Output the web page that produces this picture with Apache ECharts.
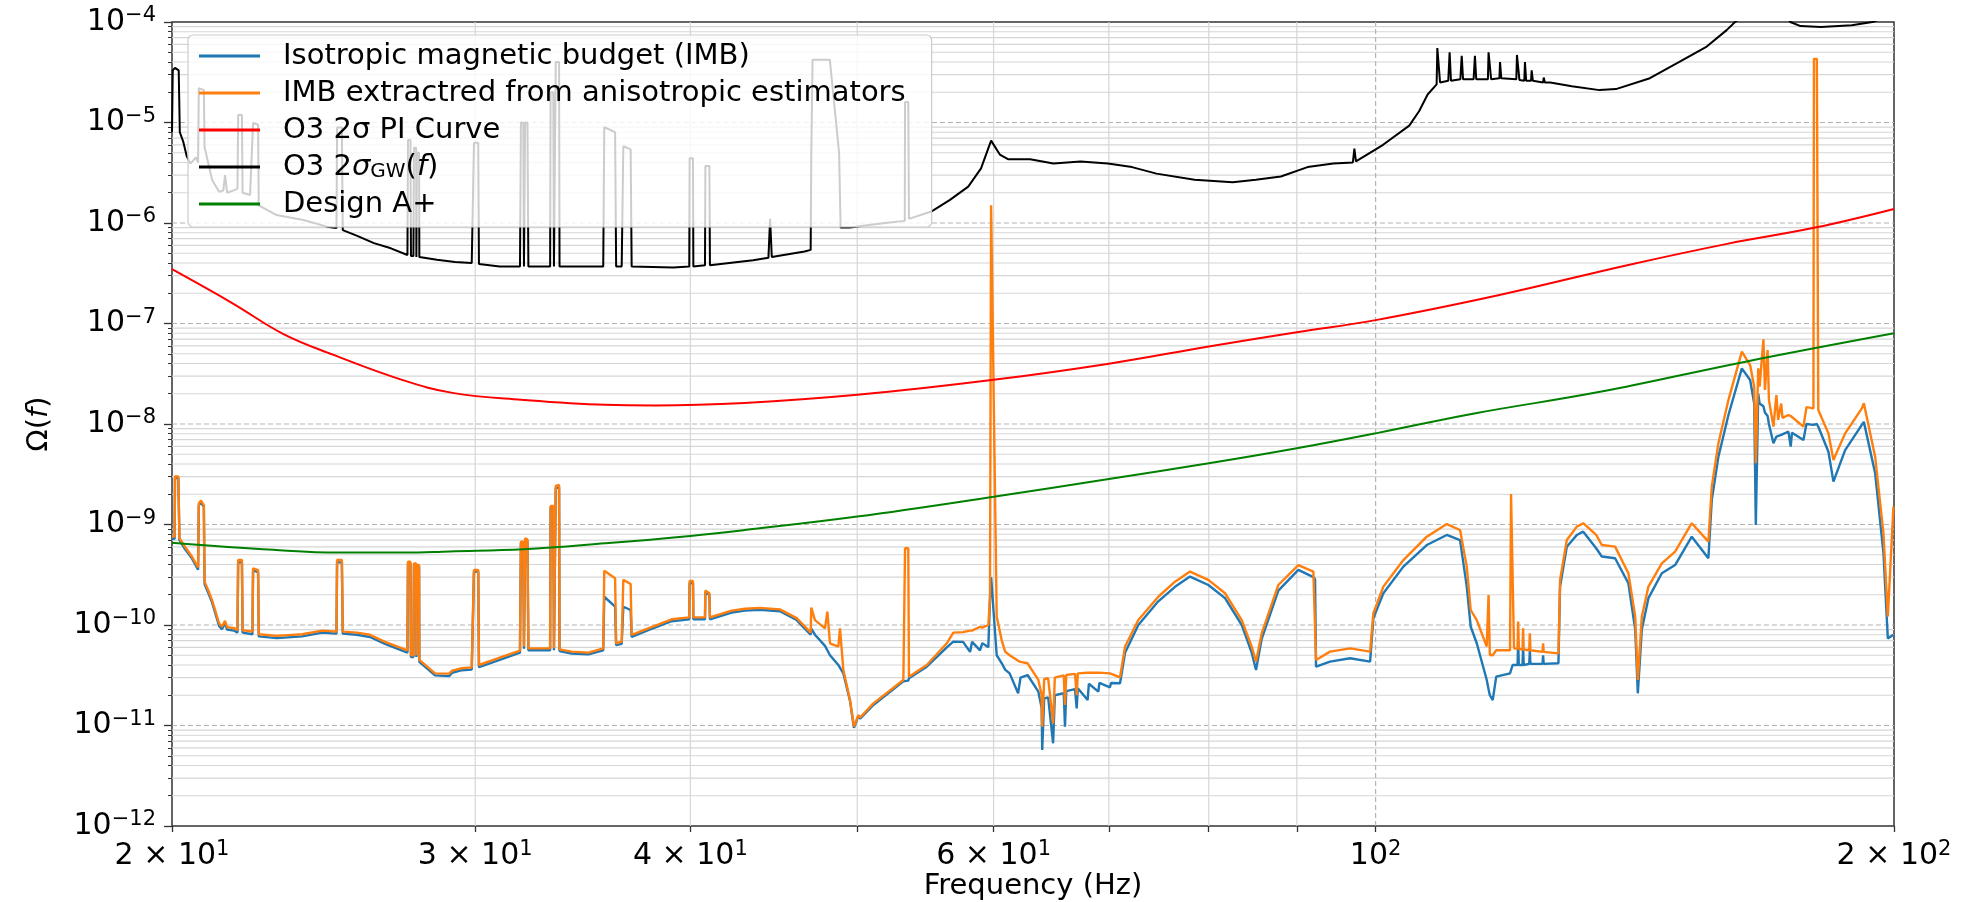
<!DOCTYPE html>
<html><head><meta charset="utf-8">
<script src="https://cdn.jsdelivr.net/npm/echarts@6/dist/echarts.min.js"></script>
<style>html,body{margin:0;padding:0;background:#fff}#c{width:1972px;height:902px}</style>
</head><body><div id="c"></div>
<script>
// ---------- data ----------
const seriesNames = ['Isotropic magnetic budget (IMB)', 'IMB extractred from anisotropic estimators', 'O3 2σ PI Curve', 'O3 2σGW(f)', 'Design A+'];

const imbFreq = [
 20.00,20.07,20.08,20.17,20.20,20.35,20.54,20.71,20.73,20.79,
 20.87,20.89,20.99,21.10,21.30,21.38,21.47,21.53,21.73,21.83,
 21.85,21.96,21.98,22.27,22.29,22.44,22.46,23.01,23.80,24.45,
 24.92,24.94,25.10,25.13,25.61,26.06,26.59,27.40,27.42,27.51,
 27.53,27.62,27.64,27.72,27.73,27.75,27.83,27.84,28.43,28.97,
 29.09,29.47,29.86,29.95,30.12,30.15,30.94,31.85,31.89,31.99,
 32.02,32.07,32.17,32.21,33.16,33.18,33.30,33.33,33.41,33.56,
 33.58,34.13,34.90,35.60,35.65,36.17,36.22,36.49,36.57,36.93,
 36.98,37.81,39.01,39.94,39.96,40.14,40.16,40.79,40.81,41.03,
 41.06,42.27,43.03,43.90,45.09,46.11,46.98,47.02,47.25,47.89,
 48.04,48.21,48.75,48.86,49.08,49.52,49.78,50.07,50.19,51.09,
 53.18,53.30,53.53,53.58,54.87,56.36,56.85,57.60,58.14,58.30,
 58.92,59.10,59.58,59.71,59.80,59.95,60.25,60.66,60.93,61.30,
 62.00,62.20,62.79,63.70,63.98,64.03,64.20,64.54,64.97,65.12,
 65.90,66.01,66.12,66.90,67.05,67.15,68.04,68.15,69.02,69.12,
 70.10,70.20,71.05,71.53,72.81,74.78,76.47,78.02,79.96,81.76,
 83.61,84.73,85.22,85.87,87.80,90.18,92.01,92.22,92.34,94.09,
 96.64,99.26,99.70,101.04,103.78,107.08,109.98,111.95,112.96,113.56,
 114.48,116.02,116.30,116.50,116.95,117.50,119.69,119.85,120.10,120.33,
 120.90,121.00,121.10,121.70,121.80,121.90,122.80,122.90,123.00,125.00,
 125.10,125.20,127.69,127.97,129.13,130.87,132.00,134.30,135.31,137.74,
 140.21,141.50,141.99,142.75,144.02,146.62,149.25,152.61,156.04,156.75,
 158.15,160.28,163.18,165.00,165.90,166.26,166.80,167.10,167.96,168.30,
 168.90,169.20,170.22,170.90,171.30,172.00,172.30,173.67,174.20,174.50,
 177.19,177.90,179.57,179.70,180.40,180.75,183.21,184.44,187.35,191.58,
 192.10,195.02,197.20,198.36,199.85
];
const imbOrange = [
 7.6e-10,7.6e-10,3.0e-9,3.0e-9,7.3e-10,6.0e-10,4.8e-10,3.75e-10,1.62e-9,1.73e-9,
 1.56e-9,2.7e-10,2.23e-10,1.77e-10,1.04e-10,9.6e-11,1.1e-10,9.5e-11,9.3e-11,8.9e-11,
 4.43e-10,4.43e-10,8.9e-11,8.6e-11,3.66e-10,3.52e-10,8.1e-11,7.8e-11,8.1e-11,8.8e-11,
 8.6e-11,4.43e-10,4.43e-10,8.6e-11,8.4e-11,8.0e-11,6.8e-11,5.6e-11,4.27e-10,4.27e-10,
 5.0e-11,5.0e-11,4.1e-10,4.1e-10,5.0e-11,3.95e-10,3.95e-10,4.5e-11,3.3e-11,3.28e-11,
 3.52e-11,3.71e-11,3.79e-11,3.52e-10,3.52e-10,4.0e-11,4.67e-11,5.56e-11,6.75e-10,6.75e-10,
 6.1e-11,7.28e-10,7.1e-10,5.86e-11,5.86e-11,1.53e-9,1.53e-9,5.86e-11,2.42e-9,2.47e-9,
 5.73e-11,5.43e-11,5.31e-11,5.86e-11,3.47e-10,2.92e-10,6.58e-11,6.83e-11,2.81e-10,2.56e-10,
 7.96e-11,9.27e-11,1.14e-10,1.19e-10,2.74e-10,2.74e-10,1.19e-10,1.19e-10,2.2e-10,2.07e-10,
 1.19e-10,1.39e-10,1.45e-10,1.48e-10,1.43e-10,1.17e-10,8.4e-11,1.49e-10,1.12e-10,9.27e-11,
 1.36e-10,6.58e-11,6.1e-11,9.27e-11,3.56e-11,1.79e-11,9.75e-12,1.27e-11,1.2e-11,1.66e-11,
 2.84e-11,5.8e-10,5.8e-10,3.06e-11,4.0e-11,6.58e-11,8.4e-11,8.5e-11,8.8e-11,8.8e-11,
 9.6e-11,9.4e-11,1.0e-10,1.84e-10,1.5e-6,1.5e-6,1.21e-10,7.0e-11,5.43e-11,5.0e-11,
 4.4e-11,4.3e-11,4.16e-11,2.84e-11,2.01e-11,9.75e-12,2.9e-11,2.95e-11,1.05e-11,3.0e-11,
 3.15e-11,1.6e-11,3.18e-11,3.26e-11,2.0e-11,3.3e-11,3.35e-11,3.36e-11,3.36e-11,3.36e-11,
 3.3e-11,3.25e-11,3.02e-11,6.1e-11,1.12e-10,1.91e-10,2.70e-10,3.40e-10,2.81e-10,2.07e-10,
 1.12e-10,6.1e-11,4.32e-11,8.26e-11,2.5e-10,3.95e-10,3.4e-10,3.27e-10,4.49e-11,5.43e-11,
 5.86e-11,5.43e-11,1.31e-10,2.41e-10,4.43e-10,7.57e-10,1.01e-9,8.81e-10,3.81e-10,1.41e-10,
 1.12e-10,6.1e-11,1.99e-10,5.03e-11,5.0e-11,5.6e-11,5.6e-11,2.01e-9,2.01e-9,5.86e-11,
 5.8e-11,1.08e-10,5.8e-11,5.7e-11,9.27e-11,5.7e-11,5.6e-11,8.26e-11,5.6e-11,5.4e-11,
 6.58e-11,5.4e-11,5.22e-11,2.81e-10,7.0e-10,9.52e-10,1.03e-9,7.9e-10,6.25e-10,6.02e-10,
 3.27e-10,1.21e-10,2.84e-11,1.21e-10,2.41e-10,4.11e-10,5.37e-10,1.03e-9,6.75e-10,2.38e-9,
 6.43e-9,1.73e-8,5.25e-8,3.86e-8,2.35e-8,4.06e-9,3.58e-8,2.35e-8,6.97e-8,2.18e-8,
 5.44e-8,1.73e-8,9.41e-9,1.94e-8,1.1e-8,1.6e-8,1.15e-8,1.23e-8,1.2e-8,1.18e-8,
 9.42e-9,1.47e-8,1.43e-8,4.3e-5,4.3e-5,1.38e-8,8.07e-9,4.39e-9,8.07e-9,1.43e-8,
 1.61e-8,4.73e-9,8.17e-10,1.21e-10,1.5e-9
];
const imbBlue = [
 7.2e-10,7.2e-10,2.9e-9,2.9e-9,7.0e-10,5.7e-10,4.6e-10,3.55e-10,1.55e-9,1.66e-9,
 1.5e-9,2.55e-10,2.1e-10,1.68e-10,9.8e-11,9.1e-11,1.04e-10,9.0e-11,8.8e-11,8.4e-11,
 4.2e-10,4.2e-10,8.4e-11,8.1e-11,3.5e-10,3.35e-10,7.7e-11,7.4e-11,7.7e-11,8.4e-11,
 8.2e-11,4.2e-10,4.2e-10,8.2e-11,8.0e-11,7.6e-11,6.5e-11,5.3e-11,4.1e-10,4.1e-10,
 4.8e-11,4.8e-11,3.9e-10,3.9e-10,4.8e-11,3.8e-10,3.8e-10,4.3e-11,3.15e-11,3.1e-11,
 3.35e-11,3.55e-11,3.6e-11,3.4e-10,3.4e-10,3.8e-11,4.45e-11,5.3e-11,6.5e-10,6.5e-10,
 5.8e-11,7.0e-10,6.8e-10,5.6e-11,5.6e-11,1.47e-9,1.47e-9,5.6e-11,2.3e-9,2.35e-9,
 5.5e-11,5.2e-11,5.1e-11,5.6e-11,1.91e-10,1.52e-10,6.3e-11,6.5e-11,1.52e-10,1.41e-10,
 7.6e-11,8.9e-11,1.09e-10,1.14e-10,2.6e-10,2.6e-10,1.14e-10,1.14e-10,2.1e-10,2.0e-10,
 1.14e-10,1.33e-10,1.39e-10,1.42e-10,1.37e-10,1.12e-10,8.0e-11,9.2e-11,8.0e-11,6.2e-11,
 5.6e-11,5.0e-11,4.0e-11,3.85e-11,3.3e-11,1.75e-11,9.5e-12,1.24e-11,1.17e-11,1.6e-11,
 2.75e-11,2.75e-11,2.8e-11,2.95e-11,3.85e-11,6.0e-11,6.83e-11,6.8e-11,5.4e-11,6.8e-11,
 5.6e-11,6.6e-11,6.0e-11,1.84e-10,3.0e-10,3.0e-10,5.0e-11,4.16e-11,3.6e-11,3.3e-11,
 2.09e-11,3.0e-11,3.18e-11,2.17e-11,1.5e-11,5.7e-12,1.86e-11,1.9e-11,6.65e-12,2.0e-11,
 2.1e-11,9.75e-12,2.2e-11,2.3e-11,1.48e-11,2.35e-11,1.79e-11,2.6e-11,2.17e-11,2.65e-11,
 2.4e-11,2.65e-11,2.63e-11,5.3e-11,1.0e-10,1.72e-10,2.4e-10,3.03e-10,2.5e-10,1.85e-10,
 1.0e-10,5.3e-11,3.57e-11,7.3e-11,2.2e-10,3.53e-10,3.0e-10,2.85e-10,3.85e-11,4.32e-11,
 4.67e-11,4.32e-11,1.17e-10,2.07e-10,3.81e-10,6.25e-10,7.87e-10,7.0e-10,2.41e-10,9.6e-11,
 6.58e-11,2.84e-11,2.3e-11,2.0e-11,1.79e-11,3.06e-11,3.3e-11,3.4e-11,4.0e-11,4.0e-11,
 4.0e-11,7.0e-11,4.0e-11,4.0e-11,6.0e-11,4.0e-11,4.1e-11,5.5e-11,4.1e-11,4.1e-11,
 5.0e-11,4.1e-11,4.16e-11,2.41e-10,6.0e-10,7.87e-10,8.49e-10,5.8e-10,4.8e-10,4.61e-10,
 2.6e-10,9.0e-11,2.09e-11,9.0e-11,1.85e-10,3.27e-10,3.95e-10,7.57e-10,4.61e-10,1.75e-9,
 4.73e-9,1.23e-8,3.58e-8,2.74e-8,1.6e-8,9.9e-10,2.0e-8,1.6e-8,1.5e-8,1.3e-8,
 1.2e-8,1.0e-8,6.43e-9,7.5e-9,7.5e-9,7.8e-9,7.9e-9,8.4e-9,5.95e-9,8.2e-9,
 6.93e-9,1.0e-8,9.8e-9,1.0e-8,1.0e-8,9.4e-9,5.3e-9,2.67e-9,5.5e-9,9.8e-9,
 1.05e-8,3.24e-9,5.2e-10,7.36e-11,8.0e-11
];

const piFreq = [20, 21.7, 23.2, 24.8, 27.2, 29.1, 31.9, 35.7, 38.15, 43.0, 50.0, 60.0, 70, 80, 90, 100, 118, 140, 160, 180, 200];
const piVal  = [3.47e-7, 1.58e-7, 7.9e-8, 4.9e-8, 2.75e-8, 2.04e-8, 1.74e-8, 1.55e-8, 1.53e-8, 1.62e-8, 1.95e-8, 2.75e-8, 3.98e-8, 5.9e-8, 8.2e-8, 1.08e-7, 1.92e-7, 3.8e-7, 6.2e-7, 9.0e-7, 1.38e-6];

const aplusFreq = [20, 22.9, 25, 27.3, 29, 32, 35.7, 40, 43, 50, 60, 70, 80, 90, 100, 114.3, 135, 164, 200];
const aplusVal  = [6.6e-10, 5.6e-10, 5.25e-10, 5.25e-10, 5.4e-10, 5.66e-10, 6.5e-10, 7.7e-10, 8.8e-10, 1.2e-9, 1.89e-9, 2.84e-9, 4.06e-9, 5.73e-9, 8.07e-9, 1.28e-8, 2.09e-8, 4.17e-8, 7.98e-8];

const sigmaFreq = [
 20.00,20.02,20.08,20.18,20.21,20.30,20.40,20.50,20.65,20.71,
 20.73,20.87,20.89,21.10,21.30,21.42,21.47,21.53,21.70,21.83,
 21.85,21.96,21.98,22.20,22.29,22.44,22.46,23.00,23.84,24.66,
 24.92,24.94,25.10,25.13,25.60,26.20,26.80,27.40,27.42,27.51,
 27.53,27.62,27.64,27.72,27.73,27.75,27.83,27.84,28.50,29.20,
 29.86,29.95,30.12,30.15,31.00,31.85,31.89,31.99,32.02,32.07,
 32.17,32.21,33.16,33.18,33.30,33.33,33.41,33.56,33.58,34.60,
 35.60,35.65,36.17,36.22,36.49,36.57,36.93,36.98,39.10,39.94,
 39.96,40.14,40.16,40.79,40.81,41.03,41.06,43.50,44.40,44.50,
 44.60,46.60,46.98,47.02,47.10,48.20,48.80,48.90,49.50,51.90,
 53.28,53.30,53.53,53.58,55.20,56.60,58.00,59.00,59.80,60.50,
 61.20,63.00,65.00,67.40,69.90,72.20,74.60,78.50,82.60,85.20,
 88.10,91.30,94.50,97.00,97.20,97.40,101.0,104.6,106.0,107.2,
 108.5,108.6,108.8,109.0,110.2,110.4,110.6,112.0,112.2,112.4,
 114.0,114.2,114.4,116.2,116.3,116.5,116.7,118.0,118.1,118.3,
 118.5,120.7,120.8,121.0,121.2,122.0,122.1,122.3,123.1,123.2,
 123.4,125.1,125.2,125.4,126.3,130.0,134.9,137.9,144.3,150.1,
 155.7,159.9,161.7,166.0,172.0,174.1,176.5,181.4,189.0,194.3,
 200.0
];
const sigmaVal = [
 8.0e-6,3.3e-5,3.5e-5,3.3e-5,8.0e-6,6.5e-6,4.6e-6,3.9e-6,4.5e-6,4.0e-6,
 2.2e-5,2.1e-5,5.7e-6,2.7e-6,2.05e-6,2.1e-6,3.0e-6,2.0e-6,2.1e-6,2.2e-6,
 1.19e-5,1.19e-5,2.0e-6,1.9e-6,9.9e-6,9.5e-6,1.5e-6,1.2e-6,1.07e-6,9.1e-7,
 8.9e-7,8.9e-6,8.9e-6,8.5e-7,7.5e-7,6.3e-7,5.6e-7,4.8e-7,6.7e-6,6.7e-6,
 4.7e-7,4.7e-7,5.6e-6,5.6e-6,4.6e-7,5.0e-6,5.0e-6,4.6e-7,4.3e-7,4.1e-7,
 4.0e-7,6.3e-6,6.3e-6,3.9e-7,3.7e-7,3.7e-7,1.0e-5,1.0e-5,3.7e-7,1.0e-5,
 1.0e-5,3.7e-7,3.7e-7,2.0e-5,2.0e-5,3.7e-7,4.0e-5,4.0e-5,3.7e-7,3.7e-7,
 3.7e-7,9.0e-6,8.0e-6,3.7e-7,3.7e-7,5.8e-6,5.4e-6,3.7e-7,3.6e-7,3.7e-7,
 4.4e-6,4.4e-6,3.7e-7,3.8e-7,3.7e-6,3.7e-6,3.8e-7,4.25e-7,4.5e-7,1.1e-6,
 4.6e-7,5.2e-7,5.4e-7,5.0e-6,4.2e-5,4.2e-5,5.0e-6,9.0e-7,9.0e-7,1.0e-6,
 1.05e-6,1.6e-5,1.6e-5,1.1e-6,1.3e-6,1.7e-6,2.3e-6,3.5e-6,6.6e-6,4.8e-6,
 4.3e-6,4.3e-6,3.9e-6,4.1e-6,3.9e-6,3.6e-6,3.1e-6,2.7e-6,2.55e-6,2.7e-6,
 2.9e-6,3.6e-6,3.9e-6,4.0e-6,5.5e-6,4.1e-6,6.0e-6,9.3e-6,1.3e-5,1.9e-5,
 2.4e-5,5.5e-5,5.5e-5,2.5e-5,2.6e-5,5.0e-5,2.6e-5,2.7e-5,4.6e-5,2.7e-5,
 2.7e-5,4.6e-5,2.7e-5,2.7e-5,5.0e-5,5.0e-5,2.7e-5,2.75e-5,4.0e-5,2.75e-5,
 2.7e-5,2.7e-5,4.7e-5,4.7e-5,2.65e-5,2.6e-5,4.0e-5,2.6e-5,2.6e-5,3.3e-5,
 2.6e-5,2.5e-5,2.8e-5,2.5e-5,2.5e-5,2.3e-5,2.1e-5,2.15e-5,2.76e-5,4.0e-5,
 5.7e-5,8.3e-5,1.0e-4,1.4e-4,1.3e-4,1.0e-4,9.1e-5,8.9e-5,9.3e-5,1.0e-4,
 1.2e-4
];

const xTickValues = [20, 30, 40, 60, 100, 200];
const xTickLabels = [['2 × 10', '1'], ['3 × 10', '1'], ['4 × 10', '1'], ['6 × 10', '1'], ['10', '2'], ['2 × 10', '2']];
const xTickMarks = [20, 30, 40, 50, 60, 70, 80, 90, 100, 200];
const xMinorGrid = [30, 40, 50, 60, 70, 80, 90];
const xMajorGrid = [100];
const yTickValues = [1e-12, 1e-11, 1e-10, 1e-9, 1e-8, 1e-7, 1e-6, 1e-5, 1e-4];
const yTickExps = ['−12', '−11', '−10', '−9', '−8', '−7', '−6', '−5', '−4'];
const yMinorMult = [2, 3, 4, 5, 6, 7, 8, 9];

// ---------- chart ----------
const FONT = "'DejaVu Sans', sans-serif";
const pairs = (f, v) => f.map((x, i) => [x, v[i]]);
const yMinor = [];
for (let i = 0; i < yTickValues.length - 1; i++) yMinorMult.forEach(m => yMinor.push(m * yTickValues[i]));

const richTick = {
  b: { fontFamily: FONT, fontSize: 30, color: '#000', lineHeight: 36 },
  s: { fontFamily: FONT, fontSize: 21, color: '#000', lineHeight: 24, padding: [0, 0, 12, 0] }
};
const near = (a, b) => Math.abs(Math.log10(a) - Math.log10(b)) < 1e-6;

// grid line specs: [x, y, kind]  kind 0 minor-h, 1 major-h, 2 minor-v, 3 major-v
const gridData = [];
yMinor.forEach(v => gridData.push([20, v, 0]));
yTickValues.slice(1, -1).forEach(v => gridData.push([20, v, 1]));
xMinorGrid.forEach(v => gridData.push([v, 1e-8, 2]));
xMajorGrid.forEach(v => gridData.push([v, 1e-8, 3]));

const mkLine = (name, f, v, color, w, z, smooth) => ({
  name, type: 'line', data: pairs(f, v), symbol: 'none', showSymbol: false,
  lineStyle: { color, width: w }, itemStyle: { color }, z, clip: true, silent: true,
  smooth: smooth || false, emphasis: { disabled: true }
});

const chart = echarts.init(document.getElementById('c'), null, { renderer: 'canvas' });
chart.setOption({
  animation: false,
  backgroundColor: '#fff',
  grid: { left: 172, right: 78, top: 22, bottom: 76, show: true, borderColor: '#333', borderWidth: 1.5, backgroundColor: '#fff',
          outerBoundsMode: 'none', containLabel: false },
  xAxis: {
    type: 'log', logBase: 10, min: 20, max: 200,
    axisLine: { show: false },
    axisTick: { show: true, customValues: xTickMarks, length: 6, lineStyle: { color: '#333', width: 1.3 } },
    axisLabel: {
      customValues: xTickValues, margin: 12, rich: richTick,
      formatter: (v) => { const i = xTickValues.findIndex(t => near(t, v)); return i < 0 ? '' : '{b|' + xTickLabels[i][0] + '}{s|' + xTickLabels[i][1] + '}'; }
    },
    splitLine: { show: false },
    name: 'Frequency (Hz)', nameLocation: 'middle', nameGap: 46, nameMoveOverlap: false,
    nameTextStyle: { fontFamily: FONT, fontSize: 29, color: '#000' }
  },
  yAxis: [{
    type: 'log', logBase: 10, min: 1e-12, max: 1e-4,
    axisLine: { show: false },
    axisTick: { show: true, customValues: yTickValues, length: 8, lineStyle: { color: '#333', width: 1.3 } },
    axisLabel: {
      customValues: yTickValues, margin: 16, rich: richTick,
      formatter: (v) => { const i = yTickValues.findIndex(t => near(t, v)); return i < 0 ? '' : '{b|10}{s|' + yTickExps[i] + '}'; }
    },
    splitLine: { show: false },
    name: 'Ω({i|f})', nameLocation: 'middle', nameGap: 118, nameRotate: 90, nameMoveOverlap: false,
    nameTextStyle: { fontFamily: FONT, fontSize: 29, color: '#000', rich: { i: { fontFamily: FONT, fontSize: 29, fontStyle: 'italic', color: '#000' } } }
  }, {
    type: 'log', logBase: 10, min: 1e-12, max: 1e-4, position: 'left',
    axisLine: { show: false },
    axisTick: { show: true, customValues: yMinor, length: 4, lineStyle: { color: '#333', width: 1 } },
    axisLabel: { show: false }, splitLine: { show: false }
  }],
  legend: {
    data: seriesNames, orient: 'vertical', left: 188, top: 35,
    padding: [6, 26, 8, 11], itemWidth: 61, itemHeight: 3, itemGap: 7, icon: 'rect',
    backgroundColor: 'rgba(255,255,255,0.8)', borderColor: '#cccccc', borderWidth: 1.2, borderRadius: 5,
    selectedMode: false, z: 30,
    textStyle: {
      fontFamily: FONT, fontSize: 29, color: '#000', lineHeight: 30, padding: [0, 0, 0, 18],
      rich: {
        i: { fontFamily: FONT, fontSize: 29, fontStyle: 'italic', color: '#000', lineHeight: 30 },
        sub: { fontFamily: FONT, fontSize: 20, color: '#000', lineHeight: 20, padding: [10, 0, 0, 0] }
      }
    },
    formatter: (name) => name === seriesNames[3] ? 'O3 2{i|σ}{sub|GW}({i|f})' : name
  },
  series: [
    { name: 'grid', type: 'custom', silent: true, z: 1, data: gridData, encode: { x: 0, y: 1 },
      renderItem: (params, api) => {
        const k = api.value(2);
        let p1, p2;
        if (k < 2) { p1 = api.coord([20, api.value(1)]); p2 = api.coord([200, api.value(1)]); }
        else { p1 = api.coord([api.value(0), 1e-12]); p2 = api.coord([api.value(0), 1e-4]); }
        const major = (k % 2) === 1;
        return { type: 'line', silent: true,
          shape: { x1: p1[0], y1: p1[1], x2: p2[0], y2: p2[1] },
          style: { stroke: major ? '#b4b4b4' : '#d6d6d6', lineWidth: 1.2, lineDash: major ? [5, 3] : null } };
      } },
    mkLine(seriesNames[0], imbFreq, imbBlue, '#1f77b4', 2.4, 10),
    mkLine(seriesNames[1], imbFreq, imbOrange, '#ff7f0e', 2.4, 11),
    mkLine(seriesNames[2], piFreq, piVal, '#ff0000', 2, 12, 0.4),
    mkLine(seriesNames[3], sigmaFreq, sigmaVal, '#000000', 2, 13),
    mkLine(seriesNames[4], aplusFreq, aplusVal, '#008000', 2, 14, 0.4)
  ]
});
</script>
</body></html>
